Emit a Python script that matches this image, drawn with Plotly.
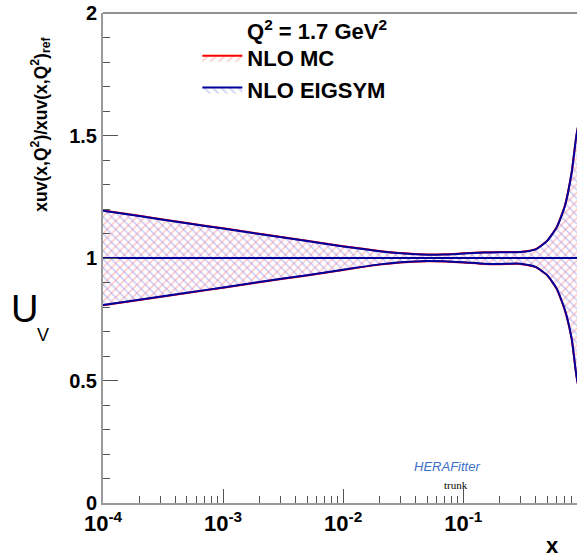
import plotly.graph_objects as go

# ---- data ----
x_vals = [1e-4, 2e-4, 5e-4, 1e-3, 2e-3, 5e-3, 1e-2, 2e-2, 3e-2, 5e-2, 7e-2,
          0.1, 0.15, 0.2, 0.3, 0.4, 0.5, 0.6, 0.7, 0.8, 0.9]

mc_upper = [1.194, 1.172, 1.143, 1.121, 1.099, 1.070, 1.048, 1.029, 1.020, 1.014, 1.015,
            1.019, 1.023, 1.024, 1.025, 1.036, 1.071, 1.127, 1.212, 1.352, 1.542]
mc_lower = [0.807, 0.829, 0.857, 0.879, 0.901, 0.929, 0.951, 0.973, 0.982, 0.987, 0.986,
            0.982, 0.976, 0.975, 0.976, 0.963, 0.929, 0.873, 0.788, 0.668, 0.478]

eig_upper = [1.193, 1.171, 1.142, 1.120, 1.098, 1.069, 1.047, 1.028, 1.019, 1.013, 1.014,
             1.018, 1.022, 1.023, 1.024, 1.035, 1.070, 1.125, 1.210, 1.350, 1.540]
eig_lower = [0.808, 0.830, 0.858, 0.880, 0.902, 0.930, 0.952, 0.974, 0.983, 0.988, 0.987,
             0.983, 0.977, 0.976, 0.977, 0.964, 0.930, 0.875, 0.790, 0.670, 0.480]

central = [1.0] * len(x_vals)

x_tickvals = [1e-4, 1e-3, 1e-2, 1e-1]
x_ticktext = ["10<sup>-4</sup>", "10<sup>-3</sup>", "10<sup>-2</sup>", "10<sup>-1</sup>"]
y_tickvals = [0, 0.5, 1, 1.5, 2]
y_ticktext = ["0", "0.5", "1", "1.5", "2"]

RED = "#ff0000"
BLUE = "#00009c"
FONT = "Liberation Sans"

fig = go.Figure()

def band(upper, lower, name, color, hatch_color, shape):
    fig.add_trace(go.Scatter(
        x=x_vals + x_vals[::-1],
        y=upper + lower[::-1],
        mode="lines",
        fill="toself",
        fillcolor="rgba(0,0,0,0)",
        fillpattern=dict(shape=shape, fgcolor=hatch_color, bgcolor="rgba(0,0,0,0)",
                         size=6, solidity=0.25),
        line=dict(color=color, width=2, shape="spline", smoothing=0.5),
        name=name,
        showlegend=True,
        hoverinfo="skip",
    ))

band(mc_upper, mc_lower, "NLO MC", RED, "rgba(255,120,120,0.85)", "/")
band(eig_upper, eig_lower, "NLO EIGSYM", BLUE, "rgba(130,130,235,0.85)", "\\")

fig.add_trace(go.Scatter(x=x_vals, y=central, mode="lines",
                         line=dict(color=RED, width=2), showlegend=False, hoverinfo="skip"))
fig.add_trace(go.Scatter(x=x_vals, y=central, mode="lines",
                         line=dict(color=BLUE, width=2), showlegend=False, hoverinfo="skip"))

minor_x = [m * 10 ** e for e in range(-4, 0) for m in range(2, 10)]

fig.update_layout(
    width=577, height=556,
    margin=dict(l=103, r=0, t=13, b=53),
    paper_bgcolor="white", plot_bgcolor="white",
    font=dict(family=FONT, size=19, color="black"),
    showlegend=True,
    legend=dict(
        x=0.199, y=0.951, xanchor="left", yanchor="top",
        bgcolor="rgba(0,0,0,0)",
        font=dict(family=FONT, size=22, color="black", weight="bold"),
        itemwidth=40,
        tracegroupgap=4,
    ),
    xaxis=dict(
        type="log",
        range=[-4, -0.053],
        tickmode="array", tickvals=x_tickvals, ticktext=x_ticktext,
        ticks="inside", ticklen=14, tickcolor="#555555", tickwidth=1,
        tickfont=dict(family=FONT, size=22, color="black", weight="bold"),
        minor=dict(tickmode="array", tickvals=minor_x, ticks="inside",
                   ticklen=7, tickcolor="#555555", showgrid=False),
        showline=True, linecolor="#9a9a9a", linewidth=2, mirror=False,
        showgrid=False, zeroline=False, layer="above traces",
    ),
    yaxis=dict(
        range=[0, 2],
        tickmode="array", tickvals=y_tickvals, ticktext=y_ticktext,
        ticks="inside", ticklen=15, tickcolor="#555555", tickwidth=1,
        tickfont=dict(family=FONT, size=20, color="black", weight="bold"),
        minor=dict(dtick=0.1, ticks="inside", ticklen=7, tickcolor="#555555",
                   showgrid=False),
        showline=True, linecolor="#9a9a9a", linewidth=2, mirror=False,
        showgrid=False, zeroline=False, layer="above traces",
        ticklabeloverflow="allow",
    ),
)

# top frame line
fig.add_shape(type="line", xref="paper", yref="paper", x0=0, x1=1, y0=1, y1=1,
              line=dict(color="#6e6e6e", width=1.5))

def note(x, y, text, size, bold=True, angle=0, xanchor="center", family=FONT, color="black"):
    fig.add_annotation(xref="paper", yref="paper", x=x, y=y, text=text,
                       textangle=angle, showarrow=False,
                       xanchor=xanchor, yanchor="middle",
                       font=dict(family=family, size=size, color=color,
                                 weight="bold" if bold else "normal"))

note(-0.131, 0.774, "xuv(x,Q<sup>2</sup>)/xuv(x,Q<sup>2</sup>)<sub>ref</sub>", 17.5, angle=-90)
note(-0.165, 0.396, "U", 38, bold=False)
note(-0.127, 0.343, "V", 18, bold=False)
note(0.299, 0.965, "Q<sup>2</sup> = 1.7 GeV<sup>2</sup>", 22, xanchor="left")
note(0.949, -0.086, "x", 22)
note(0.726, 0.0755, "<i>HERA</i><i>Fitter</i>", 13, bold=False, color="#3c6fc8")
note(0.745, 0.036, "trunk", 11, bold=False, family="Liberation Serif")

fig.write_html("out.html",
               config={"displayModeBar": False},
               post_script="document.body.style.margin='0';document.body.style.overflow='hidden';")
